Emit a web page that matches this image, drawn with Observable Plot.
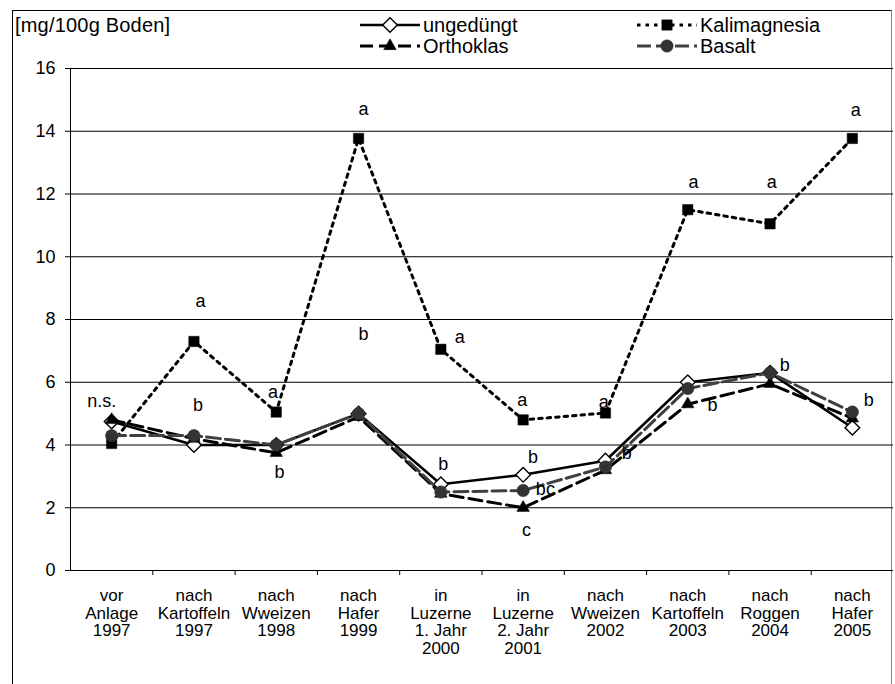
<!DOCTYPE html>
<html>
<head>
<meta charset="utf-8">
<script src="https://cdn.jsdelivr.net/npm/d3@7"></script>
<script src="https://cdn.jsdelivr.net/npm/@observablehq/plot@0.6"></script>
<style>
  html, body { margin: 0; padding: 0; background: #fff; }
  #wrap { position: relative; width: 895px; height: 684px; overflow: hidden; font-family: "Liberation Sans", Arial, sans-serif; }
  #frame { position: absolute; left: 12px; top: 10px; width: 880px; height: 700px; border-left: 1px solid #000; border-top: 1px solid #000; border-right: 1px solid #888; box-sizing: border-box; }
  #unit { position: absolute; left: 15px; top: 14px; font-size: 20px; color: #000; letter-spacing: 0.2px; }
  #chart { position: absolute; left: 0; top: 0; }
  #legend { position: absolute; left: 0; top: 0; }
</style>
</head>
<body>
<div id="wrap">
  <div id="frame"></div>
  <div id="chart"></div>
  <div id="unit">[mg/100g Boden]</div>
  <div id="legend"></div>
</div>
<script>
const categories = [
  "vor\nAnlage\n1997",
  "nach\nKartoffeln\n1997",
  "nach\nWweizen\n1998",
  "nach\nHafer\n1999",
  "in\nLuzerne\n1. Jahr\n2000",
  "in\nLuzerne\n2. Jahr\n2001",
  "nach\nWweizen\n2002",
  "nach\nKartoffeln\n2003",
  "nach\nRoggen\n2004",
  "nach\nHafer\n2005"
];
const ungeduengt   = [4.75, 4.0, 4.0, 5.0, 2.75, 3.05, 3.5, 6.0, 6.3, 4.55];
const kalimagnesia = [4.05, 7.3, 5.05, 13.77, 7.05, 4.8, 5.02, 11.5, 11.05, 13.77];
const orthoklas    = [4.8, 4.2, 3.75, 4.9, 2.45, 2.0, 3.2, 5.3, 5.95, 4.85];
const basalt       = [4.3, 4.3, 4.0, 5.0, 2.5, 2.55, 3.3, 5.8, 6.3, 5.05];
const seriesNames  = ["ungedüngt", "Kalimagnesia", "Orthoklas", "Basalt"];
const yTicks = [0, 2, 4, 6, 8, 10, 12, 14, 16];

// significance letters: category position (fractional index), value, text
const sigPos  = [-0.12, 1.08, 1.05, 1.96, 2.04, 3.06, 3.06, 4.23, 4.03, 4.99, 5.12, 5.27, 5.04, 5.98, 6.26, 7.07, 7.3, 8.02, 8.18, 9.04, 9.2];
const sigVal  = [5.4, 8.57, 5.26, 5.67, 3.12, 14.7, 7.52, 7.43, 3.4, 5.42, 3.6, 2.6, 1.27, 5.35, 3.73, 12.37, 5.26, 12.37, 6.53, 14.66, 5.42];
const sigText = ["n.s.", "a", "b", "a", "b", "a", "b", "a", "b", "a", "b", "bc", "c", "a", "b", "a", "b", "a", "b", "a", "b"];

const idx = categories.map((d, i) => i);
const bounds = categories.slice(0, -1).map((d, i) => i + 0.5);
const labels = sigText.map((t, k) => ({i: sigPos[k], y: sigVal[k], t}));

const styles = {
  "ungedüngt":    {stroke: "#000", dash: null, width: 2.6, symbol: "diamond2", r: 6.6, fill: "#fff", mstroke: "#000", mwidth: 1.4},
  "Kalimagnesia": {stroke: "#000", dash: "3.5,5", width: 3, symbol: "square2", r: 6.6, fill: "#000", mstroke: "#000", mwidth: 0.5},
  "Orthoklas":    {stroke: "#000", dash: "13,6", width: 3, symbol: "triangle2", r: 6.0, fill: "#000", mstroke: "#000", mwidth: 0.5},
  "Basalt":       {stroke: "#404040", dash: "14,5", width: 3, symbol: "circle", r: 6.2, fill: "#333", mstroke: "#333", mwidth: 0.5}
};
const seriesData = [ungeduengt, kalimagnesia, orthoklas, basalt];

const seriesMarks = seriesData.flatMap((vals, s) => {
  const st = styles[seriesNames[s]];
  return [
    Plot.line(vals, {x: (d, i) => i, y: d => d, stroke: st.stroke, strokeWidth: st.width, strokeDasharray: st.dash, strokeLinejoin: "round"}),
    Plot.dot(vals, {x: (d, i) => i, y: d => d, symbol: st.symbol, r: st.r, fill: st.fill, stroke: st.mstroke, strokeWidth: st.mwidth})
  ];
});

const chart = Plot.plot({
  width: 895,
  height: 684,
  marginLeft: 70,
  marginRight: 2,
  marginTop: 68,
  marginBottom: 114,
  style: {fontFamily: "'Liberation Sans', Arial, sans-serif", background: "transparent", color: "#000"},
  x: {domain: [-0.5, 9.5], axis: null},
  y: {domain: [0, 16], axis: null},
  marks: [
    Plot.gridY(yTicks, {stroke: "#000", strokeOpacity: 1, strokeWidth: 1}),
    Plot.ruleX([-0.5], {stroke: "#000", strokeWidth: 1}),
    Plot.axisY({ticks: yTicks, tickSize: 5, tickPadding: 10, fontSize: 18, label: null, tickFormat: d => String(d)}),
    Plot.axisX({ticks: idx, tickSize: 0, tickPadding: 18, fontSize: 17, lineHeight: 1.04, label: null, tickFormat: i => categories[i]}),
    Plot.axisX({ticks: bounds, tickSize: 5, label: null, tickFormat: () => ""}),
    ...seriesMarks,
    Plot.text(labels, {x: "i", y: "y", text: "t", fontSize: 18, fill: "#000"})
  ]
});
document.getElementById("chart").appendChild(chart);

// legend
const lg = d3.select("#legend").append("svg").attr("width", 895).attr("height", 60)
  .style("font-family", "'Liberation Sans', Arial, sans-serif");
const legendCells = [
  {name: "ungedüngt", x: 360, y: 25},
  {name: "Kalimagnesia", x: 637, y: 25},
  {name: "Orthoklas", x: 360, y: 46},
  {name: "Basalt", x: 637, y: 46}
];
const symMap = {diamond2: d3.symbolDiamond2, square2: d3.symbolSquare2, triangle2: d3.symbolTriangle2, circle: d3.symbolCircle};
legendCells.forEach(c => {
  const st = styles[c.name];
  lg.append("line").attr("x1", c.x).attr("x2", c.x + 60).attr("y1", c.y).attr("y2", c.y)
    .attr("stroke", st.stroke).attr("stroke-width", st.width).attr("stroke-dasharray", st.dash);
  lg.append("path").attr("transform", `translate(${c.x + 30},${c.y})`)
    .attr("d", d3.symbol(symMap[st.symbol], Math.PI * st.r * st.r)())
    .attr("fill", st.fill).attr("stroke", st.mstroke).attr("stroke-width", st.mwidth);
  lg.append("text").attr("x", c.x + 63).attr("y", c.y).attr("dy", "0.35em")
    .attr("font-size", 20).attr("textLength", null).text(c.name);
});
</script>
</body>
</html>
